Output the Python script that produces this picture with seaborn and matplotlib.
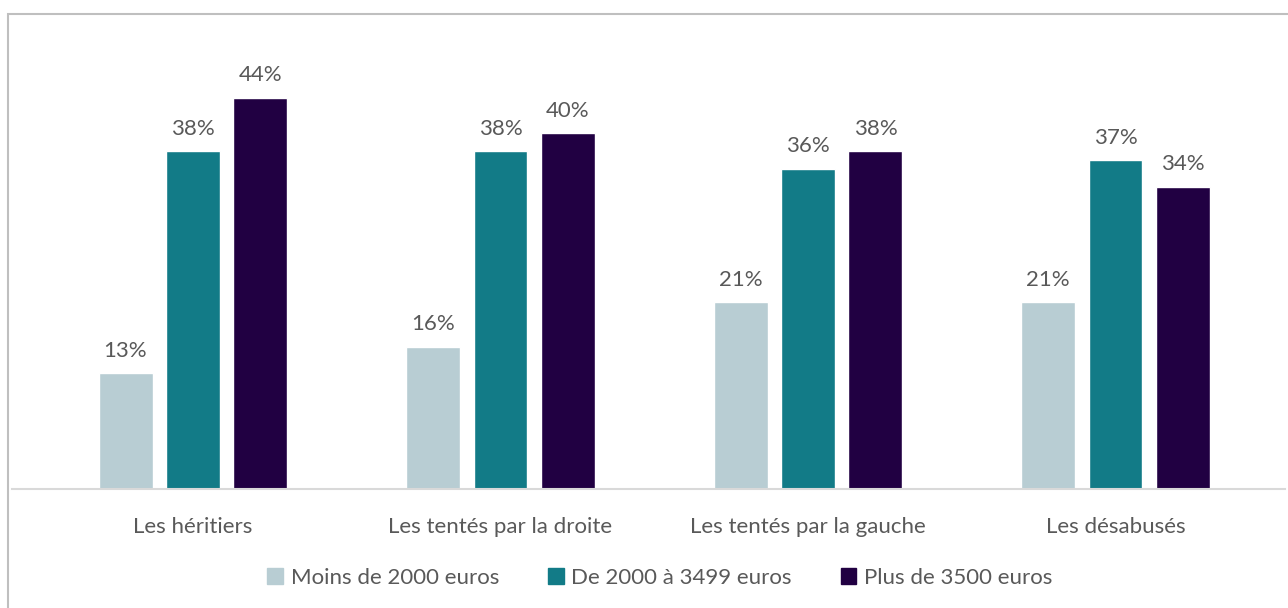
import numpy as np
import pandas as pd
import matplotlib.pyplot as plt
import matplotlib.patches as mpatches
import seaborn as sns

# -----------------------------------------------------------------------------
# Data
# -----------------------------------------------------------------------------
categories = ["Les héritiers", "Les tentés par la droite",
              "Les tentés par la gauche", "Les désabusés"]
series = ["Moins de 2000 euros", "De 2000 à 3499 euros", "Plus de 3500 euros"]
moins_2000 = [13, 16, 21, 21]
de_2000_3499 = [38, 38, 36, 37]
plus_3500 = [44, 40, 38, 34]

colors = ["#b8cdd3", "#127b87", "#210042"]
TEXT = "#595959"

df = pd.DataFrame({
    "groupe": categories * 3,
    "revenu": [s for s in series for _ in categories],
    "valeur": moins_2000 + de_2000_3499 + plus_3500,
})

# -----------------------------------------------------------------------------
# Plot
# -----------------------------------------------------------------------------
sns.set_style("white")
plt.rcParams["font.family"] = ["Lato", "DejaVu Sans"]

W, H = 1288, 608
fig = plt.figure(figsize=(W / 100, H / 100), dpi=100)

# axes placed in pixel terms: baseline at y=489, spans x 12..1285
ax_left, ax_right = 12, 1285
ax_bottom, ax_top = 489, 30
ax = fig.add_axes([ax_left / W, 1 - ax_bottom / H,
                   (ax_right - ax_left) / W, (ax_bottom - ax_top) / H])

sns.barplot(data=df, x="groupe", y="valeur", hue="revenu",
            palette=colors, width=0.6585, gap=0.2, ax=ax,
            saturation=1, legend=False)

px_per_unit = 307.5
ax.set_xlim((ax_left - 193) / px_per_unit, (ax_right - 193) / px_per_unit)
ax.set_ylim(0, (ax_bottom - ax_top) / 8.89)

for cont in ax.containers:
    ax.bar_label(cont, labels=[f"{v:.0f}%" for v in cont.datavalues],
                 padding=9, fontsize=16, color=TEXT)

ax.set_xlabel("")
ax.set_ylabel("")
ax.set_yticks([])
ax.tick_params(axis="x", length=0, pad=20, labelsize=16, labelcolor=TEXT)
for side in ["top", "right", "left"]:
    ax.spines[side].set_visible(False)
ax.spines["bottom"].set_color("#d9d9d9")
ax.spines["bottom"].set_linewidth(1.5)

handles = [mpatches.Patch(color=c, label=s) for c, s in zip(colors, series)]
fig.legend(handles=handles, loc="center", bbox_to_anchor=(660 / W, 1 - 578 / H),
           ncol=3, frameon=False, fontsize=16, handlelength=0.7,
           handleheight=0.7, handletextpad=0.35, columnspacing=2.2,
           labelcolor=TEXT)

# outer chart border
fig.patches.append(mpatches.Rectangle((8 / W, -0.1), 1.1, 1 - 14 / H + 0.1,
                                      transform=fig.transFigure, fill=False,
                                      edgecolor="#bfbfbf", linewidth=1.5))

plt.savefig("out.png", dpi=100)
plt.close()
